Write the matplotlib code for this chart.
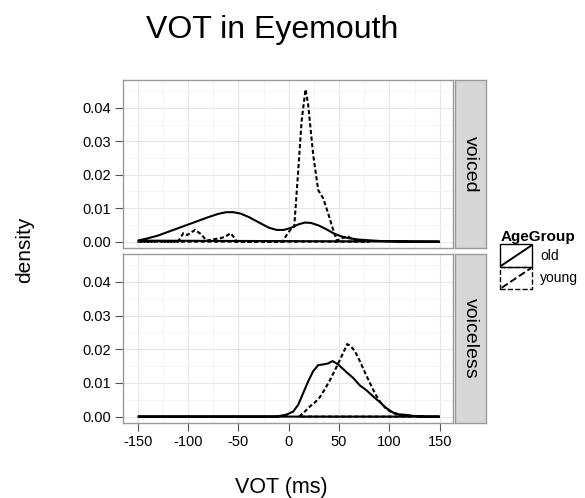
import matplotlib
matplotlib.use('Agg')
import matplotlib.pyplot as plt
from matplotlib.legend_handler import HandlerBase
from matplotlib.patches import Rectangle
from matplotlib.lines import Line2D
from matplotlib.ticker import MultipleLocator

plt.rcParams['font.family'] = ['Liberation Sans', 'DejaVu Sans']

# voiced, old
voiced_old_x = [-150, -140, -130, -120, -110, -100, -90, -80, -70, -62, -55, -48, -40, -30,
                -20, -12, -5, 2, 10, 16, 22, 30, 38, 45, 52, 60, 70, 80, 90, 105, 120, 150]
voiced_old_y = [0.0003, 0.0010, 0.0018, 0.0029, 0.0040, 0.0051, 0.0062, 0.0073, 0.0083, 0.0088,
                0.0088, 0.0084, 0.0074, 0.0058, 0.0042, 0.0035, 0.0035, 0.0041, 0.0052, 0.0057,
                0.0056, 0.0048, 0.0036, 0.0024, 0.0016, 0.0010, 0.0006, 0.0004, 0.0002, 0.0001,
                0.0, 0.0]

# voiced, young
voiced_young_x = [-150, -135, -131, -127, -110, -104.7, -100.7, -93, -87, -81.5, -75, -68, -63,
                  -57.7, -53, -52, -32, -28.6, -25, -6, -2, 2.8, 5.5, 9.4, 12.8, 16.7, 19.3,
                  24.3, 29.3, 34.3, 39.2, 44.2, 48, 52.4, 59, 65.7, 80]
voiced_young_y = [0.0, 0.0, 0.0003, 0.0, 0.0, 0.0025, 0.0020, 0.0035, 0.0022, 0.0003, 0.0007,
                  0.0010, 0.0015, 0.0025, 0.0008, 0.0, 0.0, 0.0003, 0.0, 0.0, 0.0020, 0.0040,
                  0.0045, 0.0210, 0.0360, 0.0455, 0.0410, 0.0260, 0.0154, 0.0129, 0.0084,
                  0.0035, 0.0003, 0.0010, 0.0015, 0.0003, 0.0]

# voiceless, old
voiceless_old_x = [-150, -12, -8.7, -2.1, 4.5, 9.4, 14.4, 19.4, 24.3, 29.3, 34.3, 39.2, 43.5,
                   49.1, 57.4, 64, 70.6, 77.3, 83.9, 90.5, 97.1, 103.7, 110.3, 117, 123.6, 135, 150]
voiceless_old_y = [0.0, 0.0, 0.0002, 0.0006, 0.0015, 0.0035, 0.0070, 0.0105, 0.0135, 0.0153,
                   0.0155, 0.0158, 0.0165, 0.0155, 0.0132, 0.0115, 0.0093, 0.0078, 0.0060,
                   0.0043, 0.0025, 0.0012, 0.0006, 0.0005, 0.0002, 0.0, 0.0]

# voiceless, young
voiceless_young_x = [10.4, 16, 21, 26, 31, 36, 40.9, 45.8, 50.8, 55.8, 58, 60.7, 65.7, 70.6,
                     75.6, 80.6, 85.5, 90.5, 97, 103.7, 110.3, 120, 123]
voiceless_young_y = [0.0, 0.0015, 0.0030, 0.0042, 0.0058, 0.0082, 0.0108, 0.0137, 0.0168,
                     0.0200, 0.0215, 0.0212, 0.0195, 0.0165, 0.0132, 0.0100, 0.0070, 0.0045,
                     0.0022, 0.0010, 0.0006, 0.0003, 0.0]

panels = ['voiced', 'voiceless']
age_groups = ['old', 'young']
curves = {
    ('voiced', 'old'): (voiced_old_x, voiced_old_y),
    ('voiced', 'young'): (voiced_young_x, voiced_young_y),
    ('voiceless', 'old'): (voiceless_old_x, voiceless_old_y),
    ('voiceless', 'young'): (voiceless_young_x, voiceless_young_y),
}
styles = {'old': '-', 'young': (0, (2.0, 1.2))}
yticks = [0.00, 0.01, 0.02, 0.03, 0.04]
xticks = [-150, -100, -50, 0, 50, 100, 150]

W, H = 585, 498
fig = plt.figure(figsize=(W / 100, H / 100), dpi=100)

# panel boxes in pixels: left, top, right, bottom
boxes = [(123, 80, 453, 248), (123, 254, 453, 423)]
border = '#9a9a9a'

for panel, (l, t, r, b) in zip(panels, boxes):
    ax = fig.add_axes([l / W, 1 - b / H, (r - l) / W, (b - t) / H])
    for grp in age_groups:
        x, y = curves[(panel, grp)]
        ax.fill(x, y, fill=False, edgecolor='black', lw=1.5, linestyle=styles[grp])
    ax.set_xlim(-164.6, 163.2)
    ax.set_ylim(-0.0019, 0.0483)
    ax.set_yticks(yticks)
    ax.set_yticklabels(['%.2f' % v for v in yticks])
    ax.xaxis.set_minor_locator(MultipleLocator(25))
    ax.yaxis.set_minor_locator(MultipleLocator(0.005))
    ax.grid(True, which='major', color='#e6e6e6', lw=0.8)
    ax.grid(True, which='minor', color='#f3f3f3', lw=0.6)
    ax.set_axisbelow(True)
    ax.tick_params(which='minor', length=0)
    ax.tick_params(which='major', length=5.5, color='#555555', labelsize=10.5, pad=3)
    for s in ax.spines.values():
        s.set_color(border)
        s.set_linewidth(1.0)
    ax.set_xticks(xticks)
    if panel == 'voiced':
        ax.tick_params(axis='x', length=0, labelbottom=False)
    else:
        ax.set_xticklabels([str(v) for v in xticks])

    # facet strip
    sax = fig.add_axes([455 / W, 1 - b / H, 31 / W, (b - t) / H])
    sax.set_facecolor('#d6d6d6')
    sax.set_xticks([])
    sax.set_yticks([])
    for s in sax.spines.values():
        s.set_color(border)
        s.set_linewidth(1.0)
    sax.text(0.5, 0.5, panel, rotation=-90, ha='center', va='center', fontsize=14,
             transform=sax.transAxes)

fig.text(272 / W, 1 - 30 / H, 'VOT in Eyemouth', ha='center', va='center', fontsize=23)
fig.text(25 / W, 1 - 250 / H, 'density', ha='center', va='center', rotation=90, fontsize=15)
fig.text(281 / W, 1 - 487 / H, 'VOT (ms)', ha='center', va='center', fontsize=15.5)


class BoxDiagHandler(HandlerBase):
    def create_artists(self, legend, orig_handle, xdescent, ydescent, width, height,
                       fontsize, trans):
        ls = orig_handle.get_linestyle()
        rect = Rectangle((-xdescent, -ydescent), width, height, fill=False,
                         edgecolor='black', lw=1.0, linestyle=ls, transform=trans)
        diag = Line2D([-xdescent + 1, -xdescent + width - 1],
                      [-ydescent + 1, -ydescent + height - 1],
                      color='black', lw=1.4, linestyle=ls, transform=trans)
        return [rect, diag]


handles = [Line2D([], [], color='black', linestyle=styles[g]) for g in age_groups]
leg = fig.legend(handles, age_groups, loc='upper left', bbox_to_anchor=(499 / W, 1 - 229 / H),
                 frameon=False, fontsize=10, title='AgeGroup',
                 title_fontproperties={'weight': 'bold', 'size': 11},
                 handler_map={Line2D: BoxDiagHandler()}, handlelength=2.3, handleheight=2.1,
                 labelspacing=0.0, handletextpad=0.55, borderpad=0.1, borderaxespad=0,
                 alignment='left')

fig.savefig('out.png', dpi=100)
